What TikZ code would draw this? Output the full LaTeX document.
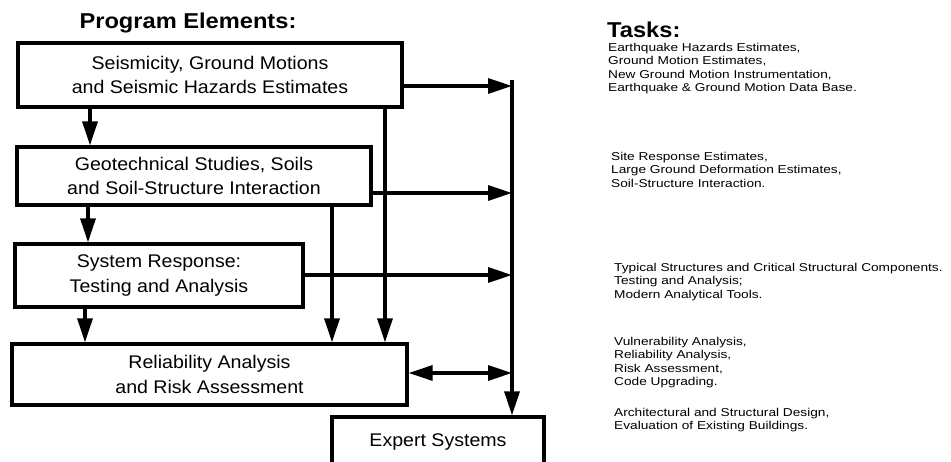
\documentclass[tikz,border=0pt]{standalone}
\usepackage{fontspec}
\setmainfont{Liberation Sans}
\newfontfamily\taskfont[FakeStretch=1.2]{Liberation Sans}
\newfontfamily\headfont[FakeStretch=1.1]{Liberation Sans}
\newfontfamily\boxfont[FakeStretch=1.07]{Liberation Sans}
\usetikzlibrary{arrows.meta}
\begin{document}
\begin{tikzpicture}[x=1pt,y=-1pt,
  box/.style={draw,line width=3.2pt,align=center,inner sep=0pt,font=\boxfont\fontsize{18.3}{24.5}\selectfont},
  conn/.style={line width=3.2pt},
  arr/.style={conn,-{Triangle[length=24pt,width=15pt]}},
  task/.style={anchor=north west,align=left,inner sep=0pt,font=\taskfont\fontsize{11.4}{13.4}\selectfont},
  head/.style={inner sep=0pt,font=\headfont\bfseries\fontsize{21.5}{24}\selectfont}]
\useasboundingbox[fill=white] (0,0) rectangle (951,462);
\node[head] (ph) at (188,23) {Program Elements:};
\node[head,anchor=west] (th) at (607,30) {Tasks:};
\node[box,minimum width=384pt,minimum height=64pt] (b1) at (210,75) {Seismicity, Ground Motions\\and Seismic Hazards Estimates};
\node[box,minimum width=354pt,minimum height=58pt] (b2) at (194,176) {Geotechnical Studies, Soils\\and Soil-Structure Interaction};
\node[box,minimum width=288pt,minimum height=63pt] (b3) at (159,275.5) {System Response:\\Testing and Analysis};
\node[box,minimum width=395pt,minimum height=61pt] (b4) at (209.5,374.5) {Reliability Analysis\\and Risk Assessment};
\node[box,minimum width=212pt,minimum height=50pt] (es) at (438,442) {Expert Systems};
\coordinate (bt) at (512,80);
\coordinate (c1) at (512,86);
\coordinate (c2) at (512,193);
\coordinate (c3) at (512,275);
\coordinate (c4) at (512,373);
% bus
\draw[arr] (bt) -- (bt |- es.north);
\draw[arr] (b1.east |- c1) -- (c1);
\draw[arr] (b2.east |- c2) -- (c2);
\draw[arr] (b3.east |- c3) -- (c3);
\draw[conn,{Triangle[length=24pt,width=15pt]}-{Triangle[length=24pt,width=15pt]}] (b4.east |- c4) -- (c4);
% vertical flows
\draw[arr] (b1.south -| 90,0) -- (b2.north -| 90,0);
\draw[arr] (b2.south -| 88,0) -- (b3.north -| 88,0);
\draw[arr] (b3.south -| 85,0) -- (b4.north -| 85,0);
\draw[arr] (b1.south -| 385,0) -- (b4.north -| 385,0);
\draw[arr] (b2.south -| 332,0) -- (b4.north -| 332,0);
% tasks
\node[task] (t1) at (608,43) {Earthquake Hazards Estimates,\\Ground Motion Estimates,\\New Ground Motion Instrumentation,\\Earthquake \& Ground Motion Data Base.};
\node[task] (t2) at (611,152) {Site Response Estimates,\\Large Ground Deformation Estimates,\\Soil-Structure Interaction.};
\node[task] (t3) at (614,263) {Typical Structures and Critical Structural Components.\\Testing and Analysis;\\Modern Analytical Tools.};
\node[task] (t4) at (614,337) {Vulnerability Analysis,\\Reliability Analysis,\\Risk Assessment,\\Code Upgrading.};
\node[task] (t5) at (614,408) {Architectural and Structural Design,\\Evaluation of Existing Buildings.};
\end{tikzpicture}
\end{document}
